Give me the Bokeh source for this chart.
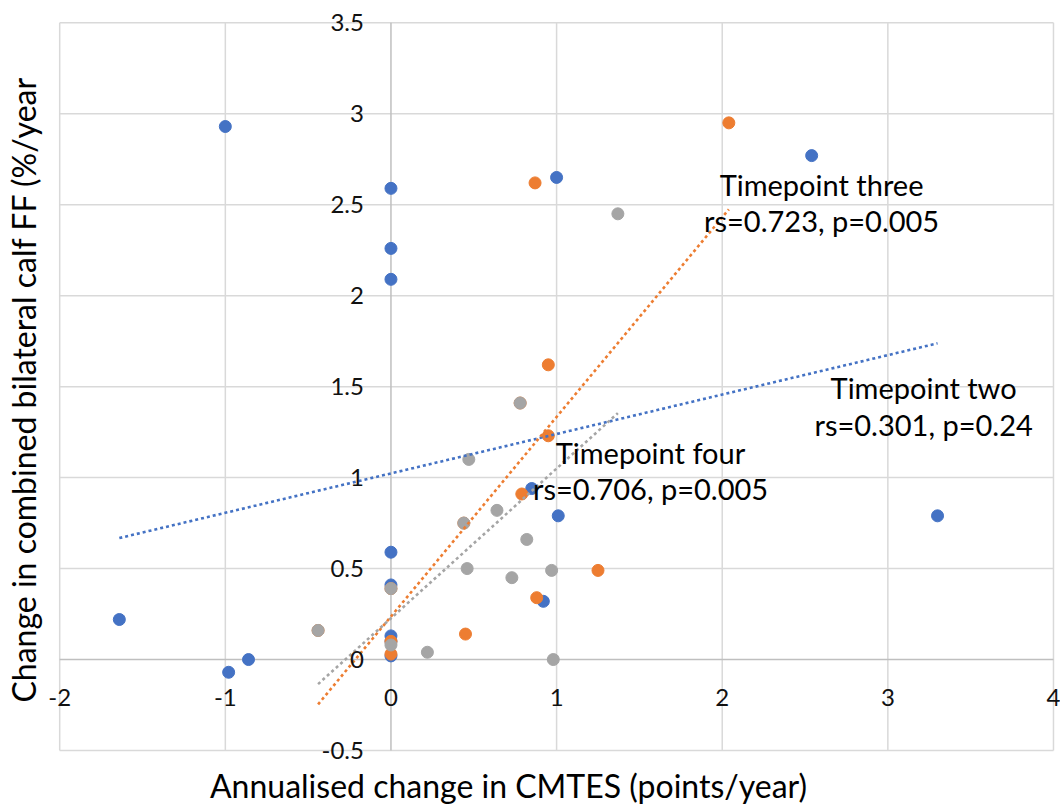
import numpy as np
from bokeh.plotting import figure
from bokeh.models import FixedTicker, Label
from bokeh.embed import file_html
from bokeh.resources import INLINE

# Annualised change in CMTES (x) vs change in combined bilateral calf FF (y)
tp2_x = [-1.00, 0.00, 0.00, 0.00, 1.00, 2.54, 3.30, 1.01, 0.85, 0.92, 0.00, 0.00, 0.00, 0.00, 0.00, -1.64, -0.98, -0.86]
tp2_y = [2.93, 2.59, 2.26, 2.09, 2.65, 2.77, 0.79, 0.79, 0.94, 0.32, 0.59, 0.41, 0.13, 0.10, 0.02, 0.22, -0.07, 0.00]

tp3_x = [2.04, 0.87, 0.95, 0.95, 0.79, 1.25, 0.88, 0.45, 0.00, 0.00, -0.44, 0.44, 0.78, 0.00]
tp3_y = [2.95, 2.62, 1.62, 1.23, 0.91, 0.49, 0.34, 0.14, 0.10, 0.03, 0.16, 0.75, 1.41, 0.39]

tp4_x = [1.37, 0.78, 0.47, 0.64, 0.44, 0.82, 0.46, 0.73, 0.97, 0.98, 0.22, 0.00, 0.00, -0.44]
tp4_y = [2.45, 1.41, 1.10, 0.82, 0.75, 0.66, 0.50, 0.45, 0.49, 0.00, 0.04, 0.39, 0.08, 0.16]

x_ticks = [-2, -1, 0, 1, 2, 3, 4]
x_tick_labels = ["-2", "-1", "0", "1", "2", "3", "4"]
y_ticks = [-0.5, 0, 0.5, 1, 1.5, 2, 2.5, 3, 3.5]
y_tick_labels = ["-0.5", "0", "0.5", "1", "1.5", "2", "2.5", "3", "3.5"]

series = [
    ("Timepoint two", tp2_x, tp2_y, "#4472C4"),
    ("Timepoint three", tp3_x, tp3_y, "#ED7D31"),
    ("Timepoint four", tp4_x, tp4_y, "#A5A5A5"),
]

# text blocks: heading, statistics, centre x, y of each line
annotations = [
    ("Timepoint three", "rs=0.723, p=0.005", 2.60, 2.613, 2.412),
    ("Timepoint two", "rs=0.301, p=0.24", 3.216, 1.498, 1.294),
    ("Timepoint four", "rs=0.706, p=0.005", 1.567, 1.138, 0.942),
]

FONT = "Lato"
GRID = "#d9d9d9"
AXIS = "#bfbfbf"

x0, x1 = x_ticks[0], x_ticks[-1]
y0, y1 = y_ticks[0], y_ticks[-1]

# the frame fills the canvas; the plotting box (-2..4, -0.5..3.5) sits inside it
p = figure(width=1060, height=809, x_range=(-2.3574, 4.0424), y_range=(-0.8243, 3.6226),
           output_backend="svg", toolbar_location=None,
           min_border_left=0, min_border_right=0, min_border_top=0, min_border_bottom=0)
p.background_fill_color = "white"
p.border_fill_color = "white"
p.outline_line_color = None
p.grid.visible = False

for ax, ticks, labels in ((p.xaxis[0], x_ticks, x_tick_labels), (p.yaxis[0], y_ticks, y_tick_labels)):
    ax.fixed_location = 0
    ax.ticker = FixedTicker(ticks=ticks)
    ax.major_label_overrides = {t: s for t, s in zip(ticks, labels)}
    ax.axis_line_color = None
    ax.major_tick_line_color = None
    ax.minor_tick_line_color = None
    ax.major_label_text_font = FONT
    ax.major_label_text_font_size = "24px"
    ax.major_label_text_color = "#111111"
p.xaxis.major_label_standoff = 23
p.yaxis.major_label_standoff = 21

# gridlines bounded to the plotting box
gx = [t for t in x_ticks if t != 0]
gy = [t for t in y_ticks if t != 0]
p.segment(x0=gx, y0=[y0] * len(gx), x1=gx, y1=[y1] * len(gx), line_color=GRID, line_width=1.5)
p.segment(x0=[x0] * len(gy), y0=gy, x1=[x1] * len(gy), y1=gy, line_color=GRID, line_width=1.5)
# axis lines crossing at zero
p.segment(x0=[0, x0], y0=[y0, 0], x1=[0, x1], y1=[y1, 0], line_color=AXIS, line_width=1.5)

for name, xs, ys, color in series:
    p.scatter(xs, ys, size=12, marker="circle", fill_color=color, line_color=color)

# linear trendlines over each series' x span
for name, xs, ys, color in series:
    slope, intercept = np.polyfit(xs, ys, 1)
    lx = np.array([min(xs), max(xs)])
    p.line(lx, slope * lx + intercept, line_color=color, line_width=2.6, line_dash="3 3")

for head, stats, ax_, ya, yb in annotations:
    for txt, yy in ((head, ya), (stats, yb)):
        p.add_layout(Label(x=ax_, y=yy, text=txt, text_font=FONT, text_font_size="29px",
                           text_color="#000000", text_align="center", text_baseline="alphabetic"))

p.add_layout(Label(x=0.71, y=-0.695, text="Annualised change in CMTES (points/year)",
                   text_font=FONT, text_font_size="32px", text_color="#000000",
                   text_align="center", text_baseline="alphabetic"))
p.add_layout(Label(x=-2.2185, y=1.484, text="Change in combined bilateral calf FF (%/year",
                   text_font=FONT, text_font_size="32px", text_color="#000000", angle=np.pi / 2,
                   text_align="center", text_baseline="alphabetic"))

open("out.html", "w").write(file_html(p, INLINE))
